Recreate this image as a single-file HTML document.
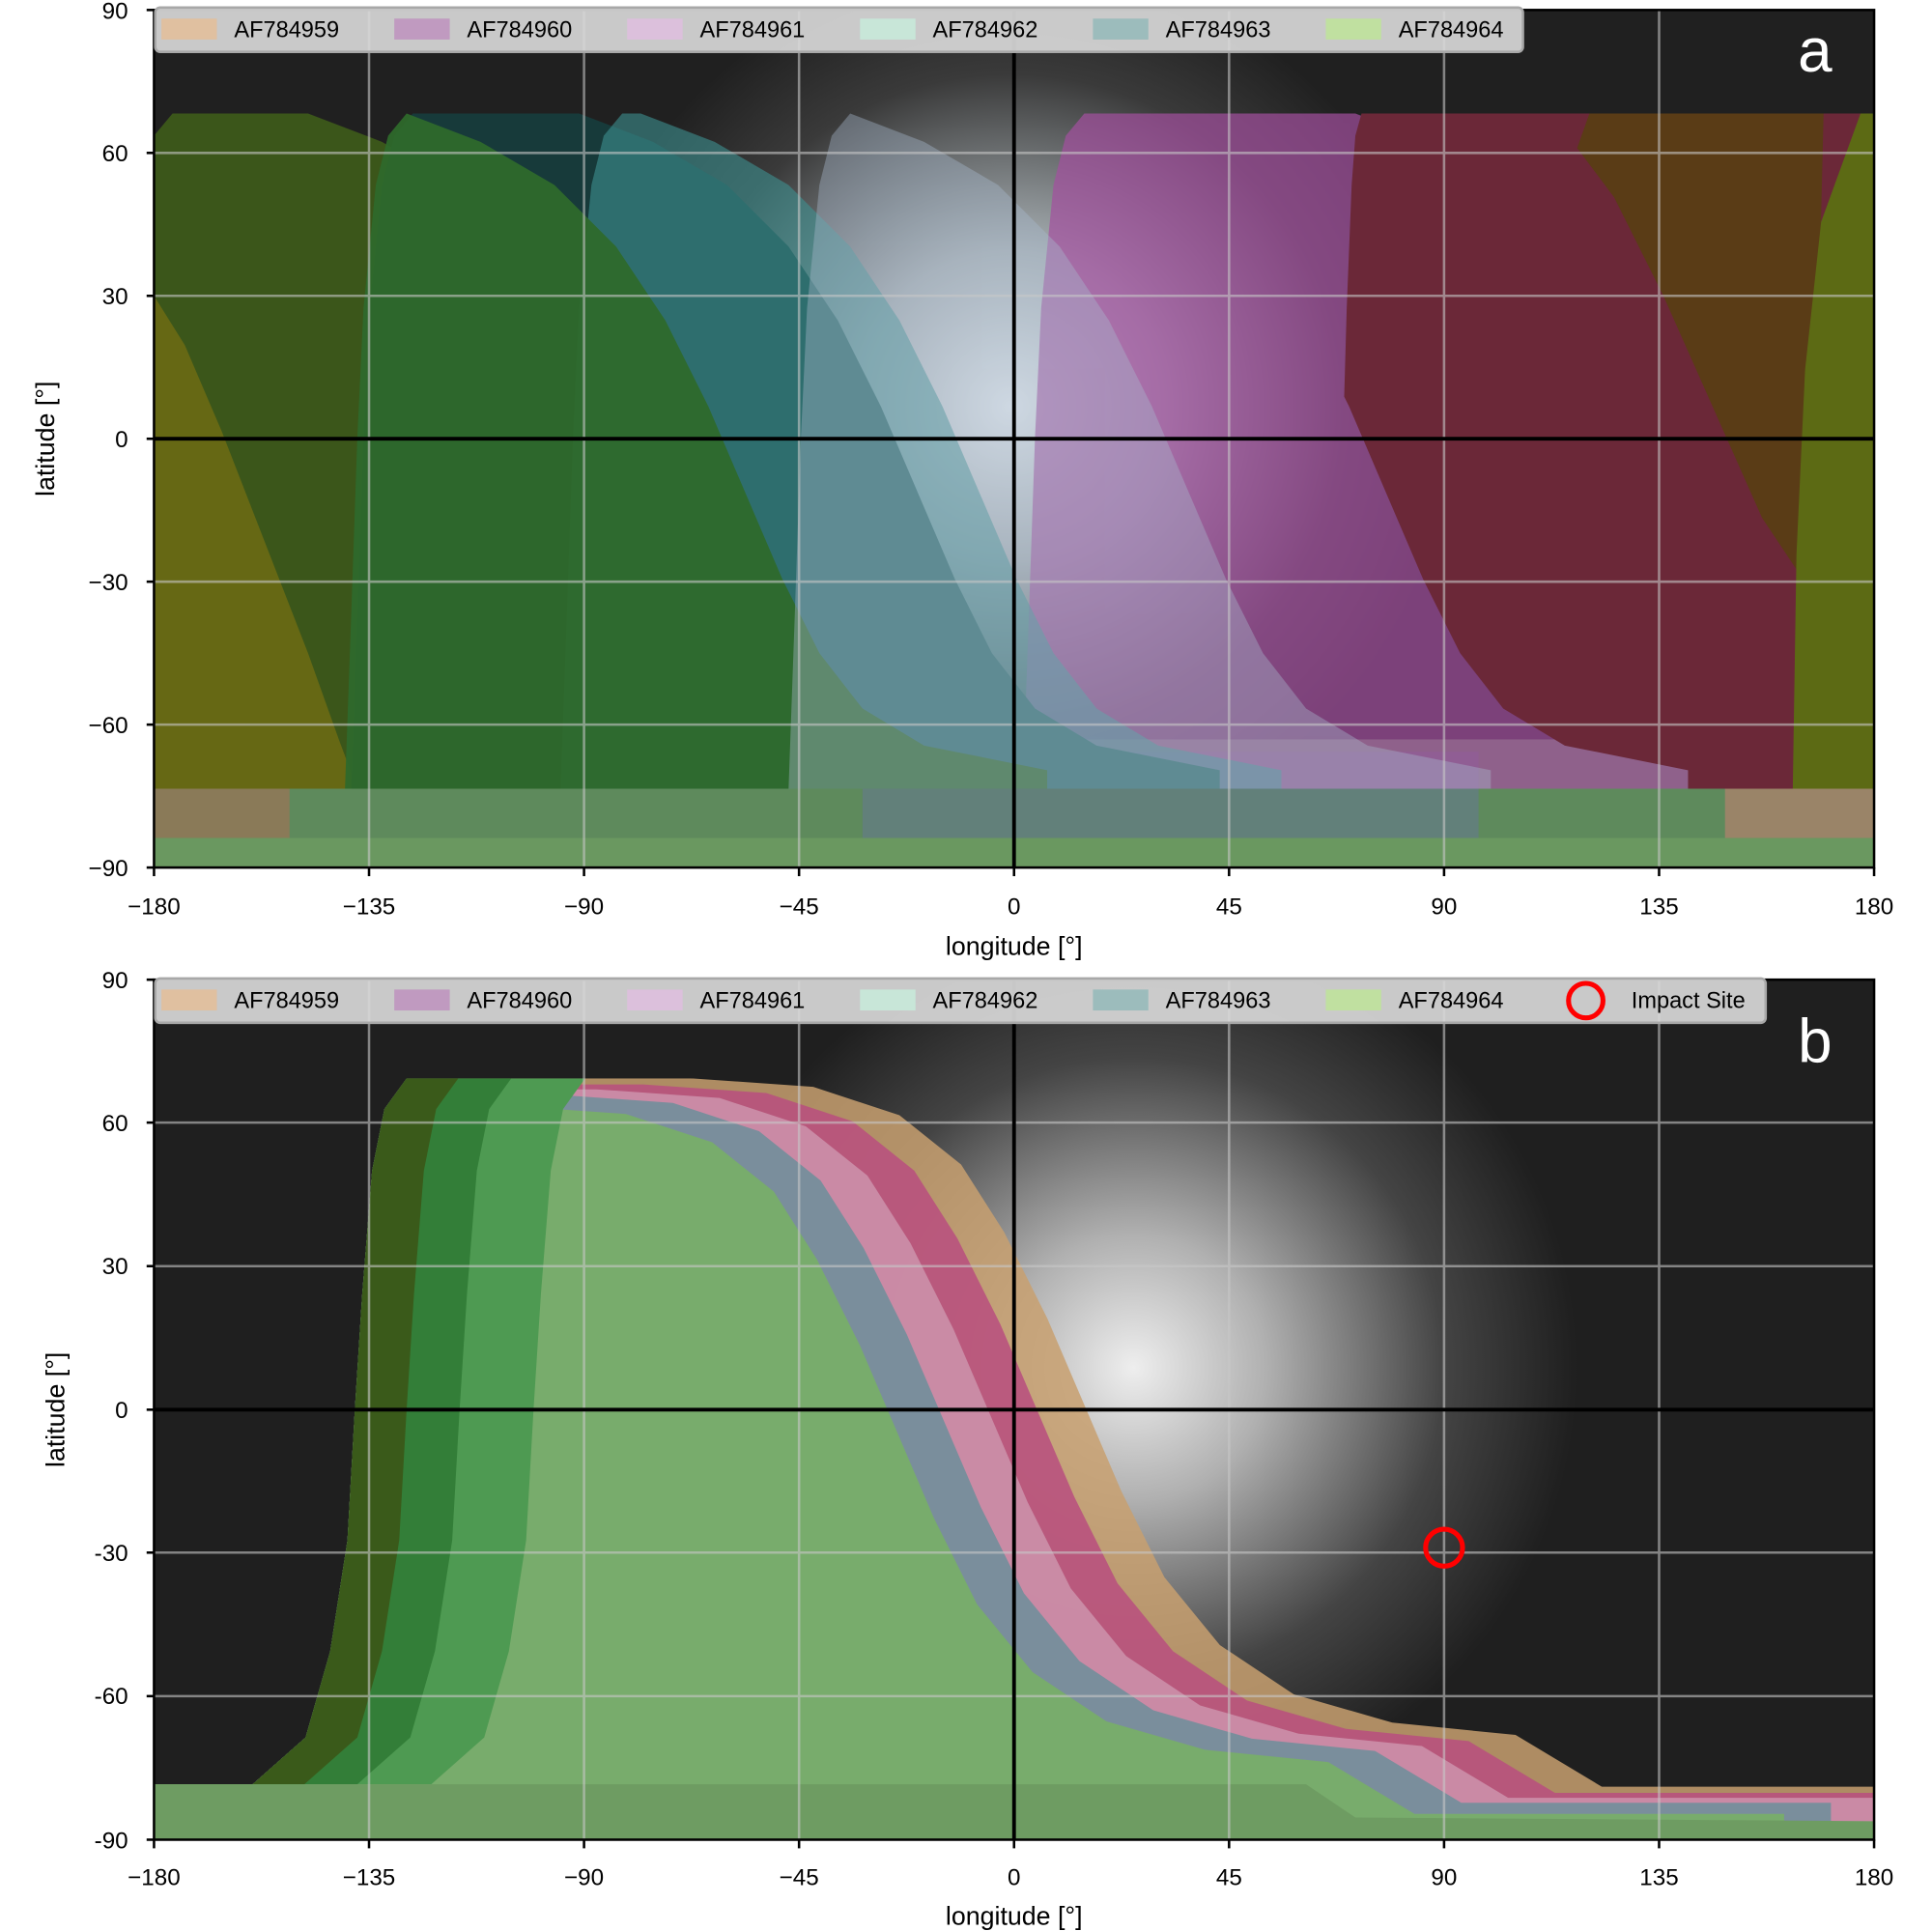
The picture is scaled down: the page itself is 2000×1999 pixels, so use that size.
<!DOCTYPE html>
<html><head><meta charset="utf-8"><style>
html,body{margin:0;padding:0;background:#fff}
svg{display:block}
text{font-family:"Liberation Sans",sans-serif;fill:#000}
</style></head><body>
<svg width="2000" height="1999" viewBox="0 0 1568 1567" xmlns="http://www.w3.org/2000/svg">
<defs>
<clipPath id="cA"><rect x="125" y="8" width="1396" height="696"/></clipPath>
<clipPath id="cB"><rect x="125" y="795" width="1396" height="698"/></clipPath>
<radialGradient id="gA" cx="820" cy="330" r="360" gradientUnits="userSpaceOnUse">
<stop offset="0" stop-color="#e8eef2"/><stop offset="0.35" stop-color="#a8b0b4"/><stop offset="0.75" stop-color="#3a3a3a"/><stop offset="1" stop-color="#202020"/></radialGradient>
<radialGradient id="gB" cx="920" cy="1110" r="360" gradientUnits="userSpaceOnUse">
<stop offset="0" stop-color="#eeeeee"/><stop offset="0.3" stop-color="#b0b0b0"/><stop offset="0.7" stop-color="#444"/><stop offset="1" stop-color="#1f1f1f"/></radialGradient>
<clipPath id="s1"><path transform="translate(250,0)" d="M -1500 92 L 0 92 L 60 115 L 120 150 L 170 200 L 210 260 L 245 330 L 275 400 L 305 470 L 335 530 L 370 575 L 420 605 L 520 625 L 520 640 L -1500 640 Z"/></clipPath>
<clipPath id="s2"><path transform="translate(850,0)" d="M 0 92 L 60 115 L 120 150 L 170 200 L 210 260 L 245 330 L 275 400 L 305 470 L 335 530 L 370 575 L 420 605 L 520 625 L 520 640 L 1500 640 L 1500 92 Z"/></clipPath>
<clipPath id="s3"><path transform="translate(470,0)" d="M -1500 92 L 0 92 L 60 115 L 120 150 L 170 200 L 210 260 L 245 330 L 275 400 L 305 470 L 335 530 L 370 575 L 420 605 L 520 625 L 520 640 L -1500 640 Z"/></clipPath>
<clipPath id="s4"><path transform="translate(520,0)" d="M -1500 92 L 0 92 L 60 115 L 120 150 L 170 200 L 210 260 L 245 330 L 275 400 L 305 470 L 335 530 L 370 575 L 420 605 L 520 625 L 520 640 L -1500 640 Z"/></clipPath>
<clipPath id="s5"><path transform="translate(330,0)" d="M -1500 92 L 0 92 L 60 115 L 120 150 L 170 200 L 210 260 L 245 330 L 275 400 L 305 470 L 335 530 L 370 575 L 420 605 L 520 625 L 520 640 L -1500 640 Z"/></clipPath>
<clipPath id="s6"><path transform="translate(690,0)" d="M -1500 92 L 0 92 L 60 115 L 120 150 L 170 200 L 210 260 L 245 330 L 275 400 L 305 470 L 335 530 L 370 575 L 420 605 L 520 625 L 520 640 L -1500 640 Z"/></clipPath>
<clipPath id="s7"><path transform="translate(1100,0)" d="M -1500 92 L 0 92 L 60 115 L 120 150 L 170 200 L 210 260 L 245 330 L 275 400 L 305 470 L 335 530 L 370 575 L 420 605 L 520 625 L 520 640 L -1500 640 Z"/></clipPath>
<clipPath id="stB"><path d="M 330 875 L 1600 875 L 1600 1500 L 125 1500 L 125 1448 L 205 1448 L 248 1410 L 268 1340 L 282 1250 L 288 1144 L 294 1050 L 302 950 L 312 900 Z"/></clipPath>
</defs>

<!-- ============ PANEL A ============ -->
<g clip-path="url(#cA)">
<rect x="125" y="8" width="1396" height="696" fill="#202020"/>
<rect x="125" y="8" width="1396" height="696" fill="url(#gA)"/>
<rect x="125" y="600" width="1396" height="104" fill="#5e8a5c"/>
<rect x="125" y="615" width="110" height="65" fill="#8a7a58"/>
<rect x="1400" y="600" width="121" height="80" fill="#9a8468"/>
<rect x="700" y="610" width="500" height="70" fill="#647c88" opacity="0.7"/>
<rect x="125" y="680" width="1396" height="24" fill="#6a9860"/>
<!-- dark olive -->
<g clip-path="url(#s1)"><path transform="translate(140,0)" fill="#3b561a" d="M 0 92 L -15 110 L -25 150 L -35 250 L -40 355 L -45 500 L -50 640 L 1500 640 L 1500 92 Z"/></g>
<path fill="#666814" d="M125 240 L150 280 L180 350 L215 440 L250 530 L275 600 L290 640 L125 640 Z"/>
<!-- purple (under maroon) -->
<g clip-path="url(#s7)" opacity="0.7"><path transform="translate(880,0)" fill="#a450a0" d="M 0 92 L -15 110 L -25 150 L -35 250 L -40 355 L -45 500 L -50 640 L 1500 640 L 1500 92 Z"/></g>
<!-- maroon -->
<g clip-path="url(#s2)"><path transform="translate(1105,0)" fill="#6b2838" d="M 0 92 L -5 110 L -8 150 L -12 250 L -15 355 L -18 500 L -20 640 L 1500 640 L 1500 92 Z"/></g>
<path fill="#5a3c16" d="M1290 92 L1480 92 L1475 300 L1470 480 L1430 420 L1390 330 L1350 240 L1310 160 L1280 120 Z"/>
<path fill="#5c6a14" d="M1510 92 L1521 92 L1521 640 L1455 640 L1458 450 L1465 300 L1478 180 Z"/>
<!-- teal dark -->
<g clip-path="url(#s3)"><path transform="translate(335,0)" fill="#173a3a" d="M 0 92 L -15 110 L -25 150 L -35 250 L -40 355 L -45 500 L -50 640 L 1500 640 L 1500 92 Z"/></g>
<g clip-path="url(#s4)" opacity="0.6"><path transform="translate(505,0)" fill="#3e9292" d="M 0 92 L -15 110 L -25 150 L -35 250 L -40 355 L -45 500 L -50 640 L 1500 640 L 1500 92 Z"/></g>
<!-- green -->
<g clip-path="url(#s5)" opacity="0.95"><path transform="translate(330,0)" fill="#2f6a2c" d="M 0 92 L -15 110 L -25 150 L -35 250 L -40 355 L -45 500 L -50 640 L 1500 640 L 1500 92 Z"/></g>
<!-- light -->
<g clip-path="url(#s6)" opacity="0.4"><path transform="translate(690,0)" fill="#a8b8cc" d="M 0 92 L -15 110 L -25 150 L -35 250 L -40 355 L -45 500 L -50 640 L 1500 640 L 1500 92 Z"/></g>
<!-- grid -->
<g stroke="#c8c8c8" stroke-width="2" opacity="0.6">
<line x1="299.5" y1="8" x2="299.5" y2="704"/><line x1="474" y1="8" x2="474" y2="704"/><line x1="648.5" y1="8" x2="648.5" y2="704"/><line x1="997.5" y1="8" x2="997.5" y2="704"/><line x1="1172" y1="8" x2="1172" y2="704"/><line x1="1346.5" y1="8" x2="1346.5" y2="704"/>
<line x1="125" y1="124" x2="1521" y2="124"/><line x1="125" y1="240" x2="1521" y2="240"/><line x1="125" y1="472" x2="1521" y2="472"/><line x1="125" y1="588" x2="1521" y2="588"/>
</g>
<line x1="823" y1="8" x2="823" y2="704" stroke="#000" stroke-width="3"/>
<line x1="125" y1="356" x2="1521" y2="356" stroke="#000" stroke-width="3"/>
</g>
<rect x="125" y="8" width="1396" height="696" fill="none" stroke="#000" stroke-width="2"/>
<!-- legend A -->
<rect x="126" y="6" width="1110" height="36" rx="4" fill="#d8d8d8" fill-opacity="0.92" stroke="#a8a8a8" stroke-width="2"/>
<g font-size="18.5">
<rect x="131" y="15" width="45" height="17" fill="#e0c0a0"/><text x="190" y="30">AF784959</text>
<rect x="320" y="15" width="45" height="17" fill="#c09ac0"/><text x="379" y="30">AF784960</text>
<rect x="509" y="15" width="45" height="17" fill="#dcc0dc"/><text x="568" y="30">AF784961</text>
<rect x="698" y="15" width="45" height="17" fill="#c8e6d8"/><text x="757" y="30">AF784962</text>
<rect x="887" y="15" width="45" height="17" fill="#9cbcbc"/><text x="946" y="30">AF784963</text>
<rect x="1076" y="15" width="45" height="17" fill="#c0e0a0"/><text x="1135" y="30">AF784964</text>
</g>
<text x="1473" y="58" font-size="50" style="fill:#fff" text-anchor="middle">a</text>
<g stroke="#000" stroke-width="2">
<line x1="119" y1="8" x2="125" y2="8"/><line x1="119" y1="124" x2="125" y2="124"/><line x1="119" y1="240" x2="125" y2="240"/><line x1="119" y1="356" x2="125" y2="356"/><line x1="119" y1="472" x2="125" y2="472"/><line x1="119" y1="588" x2="125" y2="588"/><line x1="119" y1="704" x2="125" y2="704"/>
<line x1="125" y1="704" x2="125" y2="711"/><line x1="299.5" y1="704" x2="299.5" y2="711"/><line x1="474" y1="704" x2="474" y2="711"/><line x1="648.5" y1="704" x2="648.5" y2="711"/><line x1="823" y1="704" x2="823" y2="711"/><line x1="997.5" y1="704" x2="997.5" y2="711"/><line x1="1172" y1="704" x2="1172" y2="711"/><line x1="1346.5" y1="704" x2="1346.5" y2="711"/><line x1="1521" y1="704" x2="1521" y2="711"/>
</g>
<g font-size="19" text-anchor="end">
<text x="104" y="15">90</text><text x="104" y="131">60</text><text x="104" y="247">30</text><text x="104" y="363">0</text><text x="104" y="479">−30</text><text x="104" y="595">−60</text><text x="104" y="711">−90</text>
</g>
<g font-size="19" text-anchor="middle">
<text x="125" y="742">−180</text><text x="299.5" y="742">−135</text><text x="474" y="742">−90</text><text x="648.5" y="742">−45</text><text x="823" y="742">0</text><text x="997.5" y="742">45</text><text x="1172" y="742">90</text><text x="1346.5" y="742">135</text><text x="1521" y="742">180</text>
</g>
<text x="823" y="775" font-size="21" text-anchor="middle">longitude [°]</text>
<text transform="translate(44,356) rotate(-90)" font-size="21" text-anchor="middle">latitude [°]</text>

<!-- ============ PANEL B ============ -->
<g clip-path="url(#cB)">
<rect x="125" y="795" width="1396" height="698" fill="#1f1f1f"/>
<rect x="125" y="795" width="1396" height="698" fill="url(#gB)"/>
<g clip-path="url(#stB)">
<path fill="#c8a070" opacity="0.85" d="M 560 875 L 660 882 L 730 905 L 780 945 L 815 1000 L 850 1070 L 880 1140 L 910 1210 L 945 1280 L 990 1335 L 1050 1375 L 1130 1398 L 1230 1408 L 1300 1450 L 1600 1450 L 1600 1500 L -500 1500 L -500 875 Z"/>
<path transform="translate(-38,5)" fill="#b8507e" opacity="0.88" d="M 560 875 L 660 882 L 730 905 L 780 945 L 815 1000 L 850 1070 L 880 1140 L 910 1210 L 945 1280 L 990 1335 L 1050 1375 L 1130 1398 L 1230 1408 L 1300 1450 L 1600 1450 L 1600 1500 L -500 1500 L -500 875 Z"/>
<path transform="translate(-76,9)" fill="#cc90aa" opacity="0.9" d="M 560 875 L 660 882 L 730 905 L 780 945 L 815 1000 L 850 1070 L 880 1140 L 910 1210 L 945 1280 L 990 1335 L 1050 1375 L 1130 1398 L 1230 1408 L 1300 1450 L 1600 1450 L 1600 1500 L -500 1500 L -500 875 Z"/>
<path transform="translate(-114,13)" fill="#7a8e9c" d="M 560 875 L 660 882 L 730 905 L 780 945 L 815 1000 L 850 1070 L 880 1140 L 910 1210 L 945 1280 L 990 1335 L 1050 1375 L 1130 1398 L 1230 1408 L 1300 1450 L 1600 1450 L 1600 1500 L -500 1500 L -500 875 Z"/>
<path transform="translate(-152,22)" fill="#78ac6c" d="M 560 875 L 660 882 L 730 905 L 780 945 L 815 1000 L 850 1070 L 880 1140 L 910 1210 L 945 1280 L 990 1335 L 1050 1375 L 1130 1398 L 1230 1408 L 1300 1450 L 1600 1450 L 1600 1500 L -500 1500 L -500 875 Z"/>
<path transform="translate(145,0)" fill="#4e9a52" d="M 330 875 L 312 900 L 302 950 L 294 1050 L 288 1144 L 282 1250 L 268 1340 L 248 1410 L 205 1448 L -500 1448 L -500 875 Z"/>
<path transform="translate(85,0)" fill="#337e38" d="M 330 875 L 312 900 L 302 950 L 294 1050 L 288 1144 L 282 1250 L 268 1340 L 248 1410 L 205 1448 L -500 1448 L -500 875 Z"/>
<path transform="translate(42,0)" fill="#3a5a1a" d="M 330 875 L 312 900 L 302 950 L 294 1050 L 288 1144 L 282 1250 L 268 1340 L 248 1410 L 205 1448 L -500 1448 L -500 875 Z"/>
</g>
<path fill="#6e9c62" d="M125 1448 L1060 1448 L1100 1475 L1521 1478 L1521 1493 L125 1493 Z"/>
<g stroke="#c8c8c8" stroke-width="2" opacity="0.6">
<line x1="299.5" y1="795" x2="299.5" y2="1493"/><line x1="474" y1="795" x2="474" y2="1493"/><line x1="648.5" y1="795" x2="648.5" y2="1493"/><line x1="997.5" y1="795" x2="997.5" y2="1493"/><line x1="1172" y1="795" x2="1172" y2="1493"/><line x1="1346.5" y1="795" x2="1346.5" y2="1493"/>
<line x1="125" y1="911" x2="1521" y2="911"/><line x1="125" y1="1027.5" x2="1521" y2="1027.5"/><line x1="125" y1="1260" x2="1521" y2="1260"/><line x1="125" y1="1376.5" x2="1521" y2="1376.5"/>
</g>
<line x1="823" y1="795" x2="823" y2="1493" stroke="#000" stroke-width="3"/>
<line x1="125" y1="1144" x2="1521" y2="1144" stroke="#000" stroke-width="3"/>
<circle cx="1172" cy="1256" r="15" fill="none" stroke="#ff0000" stroke-width="4"/>
</g>
<rect x="125" y="795" width="1396" height="698" fill="none" stroke="#000" stroke-width="2"/>
<rect x="126" y="794" width="1307" height="36" rx="4" fill="#d8d8d8" fill-opacity="0.92" stroke="#a8a8a8" stroke-width="2"/>
<g font-size="18.5">
<rect x="131" y="803" width="45" height="17" fill="#e0c0a0"/><text x="190" y="818">AF784959</text>
<rect x="320" y="803" width="45" height="17" fill="#c09ac0"/><text x="379" y="818">AF784960</text>
<rect x="509" y="803" width="45" height="17" fill="#dcc0dc"/><text x="568" y="818">AF784961</text>
<rect x="698" y="803" width="45" height="17" fill="#c8e6d8"/><text x="757" y="818">AF784962</text>
<rect x="887" y="803" width="45" height="17" fill="#9cbcbc"/><text x="946" y="818">AF784963</text>
<rect x="1076" y="803" width="45" height="17" fill="#c0e0a0"/><text x="1135" y="818">AF784964</text>
<circle cx="1287" cy="812" r="14" fill="none" stroke="#ff0000" stroke-width="4"/><text x="1324" y="818">Impact Site</text>
</g>
<text x="1473" y="862" font-size="50" style="fill:#fff" text-anchor="middle">b</text>
<g stroke="#000" stroke-width="2">
<line x1="119" y1="795" x2="125" y2="795"/><line x1="119" y1="911" x2="125" y2="911"/><line x1="119" y1="1027.5" x2="125" y2="1027.5"/><line x1="119" y1="1144" x2="125" y2="1144"/><line x1="119" y1="1260" x2="125" y2="1260"/><line x1="119" y1="1376.5" x2="125" y2="1376.5"/><line x1="119" y1="1493" x2="125" y2="1493"/>
<line x1="125" y1="1493" x2="125" y2="1500"/><line x1="299.5" y1="1493" x2="299.5" y2="1500"/><line x1="474" y1="1493" x2="474" y2="1500"/><line x1="648.5" y1="1493" x2="648.5" y2="1500"/><line x1="823" y1="1493" x2="823" y2="1500"/><line x1="997.5" y1="1493" x2="997.5" y2="1500"/><line x1="1172" y1="1493" x2="1172" y2="1500"/><line x1="1346.5" y1="1493" x2="1346.5" y2="1500"/><line x1="1521" y1="1493" x2="1521" y2="1500"/>
</g>
<g font-size="19" text-anchor="end">
<text x="104" y="802">90</text><text x="104" y="918">60</text><text x="104" y="1034">30</text><text x="104" y="1151">0</text><text x="104" y="1267">-30</text><text x="104" y="1383">-60</text><text x="104" y="1500">-90</text>
</g>
<g font-size="19" text-anchor="middle">
<text x="125" y="1530">−180</text><text x="299.5" y="1530">−135</text><text x="474" y="1530">−90</text><text x="648.5" y="1530">−45</text><text x="823" y="1530">0</text><text x="997.5" y="1530">45</text><text x="1172" y="1530">90</text><text x="1346.5" y="1530">135</text><text x="1521" y="1530">180</text>
</g>
<text x="823" y="1562" font-size="21" text-anchor="middle">longitude [°]</text>
<text transform="translate(52,1144) rotate(-90)" font-size="21" text-anchor="middle">latitude [°]</text>
</svg>
</body></html>
